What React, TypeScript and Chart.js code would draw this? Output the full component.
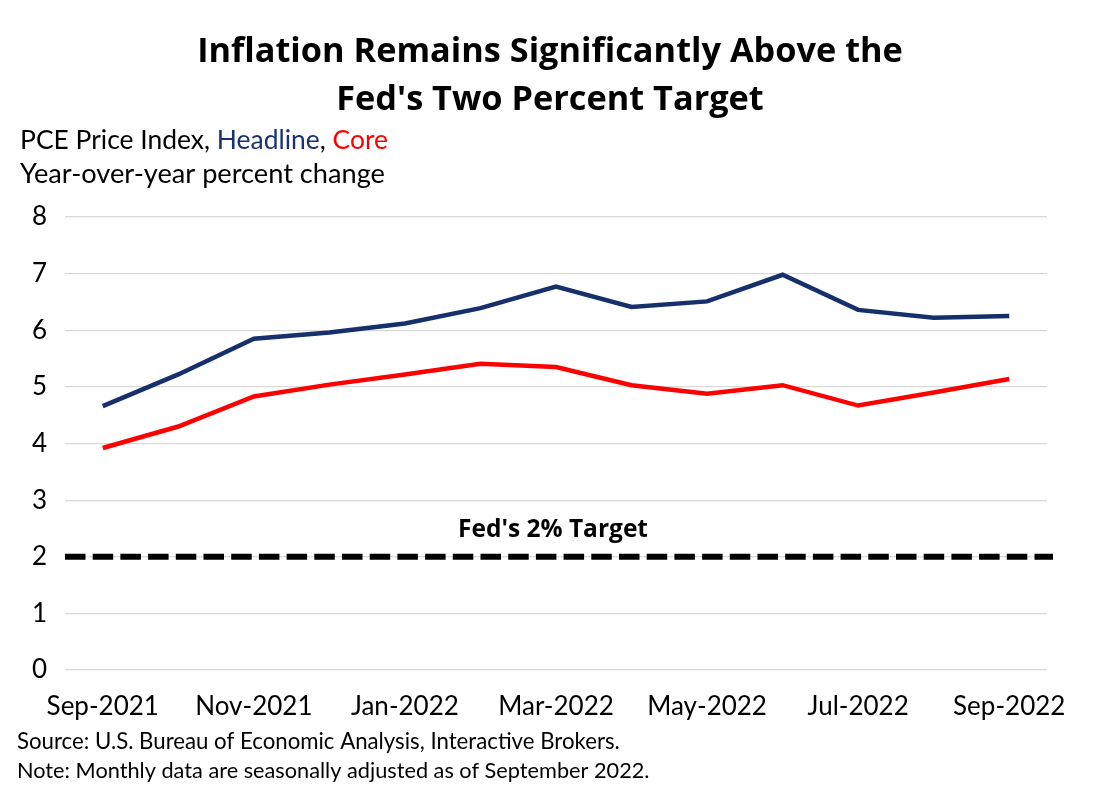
import { useEffect, useRef } from "react";
import { Chart, registerables } from "chart.js";

Chart.register(...registerables);

const MONTHS = [
  "Sep-2021", "Oct-2021", "Nov-2021", "Dec-2021", "Jan-2022", "Feb-2022", "Mar-2022",
  "Apr-2022", "May-2022", "Jun-2022", "Jul-2022", "Aug-2022", "Sep-2022",
];
const HEADLINE = [4.66, 5.22, 5.85, 5.96, 6.12, 6.39, 6.77, 6.41, 6.51, 6.98, 6.36, 6.22, 6.25];
const CORE = [3.92, 4.3, 4.83, 5.04, 5.22, 5.41, 5.35, 5.03, 4.88, 5.03, 4.67, 4.9, 5.14];
const Y_MIN = 0;
const Y_MAX = 8;
const Y_STEP = 1;
const TARGET = 2;
const TARGET_LABEL = "Fed's 2% Target";
const TITLE_LINES = ["Inflation Remains Significantly Above the", "Fed's Two Percent Target"];
const SUBTITLE_PARTS = [
  { text: "PCE Price Index, ", color: "#000000" },
  { text: "Headline", color: "#1a3370" },
  { text: ", ", color: "#000000" },
  { text: "Core", color: "#ff0000" },
];
const SUBTITLE_2 = "Year-over-year percent change";
const FOOTNOTES = [
  "Source: U.S. Bureau of Economic Analysis, Interactive Brokers.",
  "Note: Monthly data are seasonally adjusted as of September 2022.",
];

const FONT = "Lato, 'Open Sans', sans-serif";
const BOLD_FONT = "'Open Sans', Lato, sans-serif";
const NAVY = "#15306a";
const RED = "#ff0000";

function fitSize(ctx: CanvasRenderingContext2D, text: string, weight: string, family: string, width: number) {
  ctx.font = `${weight} 100px ${family}`;
  const w = ctx.measureText(text).width;
  return (100 * width) / w;
}

const textPlugin = {
  id: "customText",
  beforeDatasetsDraw(chart: any) {
    const { ctx, chartArea, scales } = chart;
    const y = scales.y.getPixelForValue(TARGET);
    ctx.save();
    ctx.strokeStyle = "#000000";
    ctx.lineWidth = 6;
    ctx.setLineDash([20.5, 7.2]);
    ctx.beginPath();
    ctx.moveTo(chartArea.left, y);
    ctx.lineTo(chartArea.right + 6, y);
    ctx.stroke();
    ctx.restore();
  },
  afterDraw(chart: any) {
    const { ctx, scales } = chart;
    ctx.save();
    ctx.textBaseline = "middle";
    // title
    ctx.fillStyle = "#000000";
    ctx.textAlign = "center";
    const ts = fitSize(ctx, TITLE_LINES[0], "bold", BOLD_FONT, 706);
    ctx.font = `bold ${ts}px ${BOLD_FONT}`;
    ctx.fillText(TITLE_LINES[0], 550, 52);
    ctx.fillText(TITLE_LINES[1], 550, 100);
    // subtitle
    ctx.textAlign = "left";
    const full = SUBTITLE_PARTS.map((p) => p.text).join("");
    const ss = fitSize(ctx, full, "normal", FONT, 368);
    ctx.font = `normal ${ss}px ${FONT}`;
    let x = 20;
    for (const p of SUBTITLE_PARTS) {
      ctx.fillStyle = p.color;
      ctx.fillText(p.text, x, 140);
      x += ctx.measureText(p.text).width;
    }
    ctx.fillStyle = "#000000";
    const s2 = fitSize(ctx, SUBTITLE_2, "normal", FONT, 365);
    ctx.font = `normal ${s2}px ${FONT}`;
    ctx.fillText(SUBTITLE_2, 20, 174);
    // target label
    ctx.textAlign = "center";
    const tl = fitSize(ctx, TARGET_LABEL, "bold", BOLD_FONT, 190);
    ctx.font = `bold ${tl}px ${BOLD_FONT}`;
    const ty = scales.y.getPixelForValue(TARGET);
    ctx.fillText(TARGET_LABEL, 553, ty - 27);
    // footnotes
    ctx.textAlign = "left";
    const f1 = fitSize(ctx, FOOTNOTES[0], "normal", FONT, 603);
    ctx.font = `normal ${f1}px ${FONT}`;
    ctx.fillText(FOOTNOTES[0], 17, 742);
    const f2 = fitSize(ctx, FOOTNOTES[1], "normal", FONT, 633);
    ctx.font = `normal ${f2}px ${FONT}`;
    ctx.fillText(FOOTNOTES[1], 17, 771);
    ctx.restore();
  },
};

export default function App() {
  const ref = useRef<HTMLCanvasElement | null>(null);
  useEffect(() => {
    if (!ref.current) return;
    const chart = new Chart(ref.current, {
      type: "line",
      data: {
        labels: MONTHS,
        datasets: [
          {
            label: "Headline",
            data: HEADLINE,
            borderColor: NAVY,
            backgroundColor: NAVY,
            borderWidth: 4.5,
            pointRadius: 0,
            tension: 0,
          },
          {
            label: "Core",
            data: CORE,
            borderColor: RED,
            backgroundColor: RED,
            borderWidth: 4.5,
            pointRadius: 0,
            tension: 0,
          },
        ],
      },
      options: {
        responsive: false,
        animation: false,
        devicePixelRatio: 1,
        layout: { padding: { left: 0, top: 217, right: 53, bottom: 68 } },
        plugins: {
          legend: { display: false },
          title: { display: false },
          tooltip: { enabled: false },
        },
        scales: {
          x: {
            type: "category",
            offset: true,
            grid: { display: false, drawTicks: false },
            border: { display: false },
            afterFit: (s: any) => { s.height = 60; },
            ticks: {
              autoSkip: false,
              maxRotation: 0,
              padding: 21,
              color: "#000000",
              font: { family: FONT, size: 26 },
              callback: (_v: any, i: number) => (i % 2 === 0 ? MONTHS[i] : ""),
            },
          },
          y: {
            min: Y_MIN,
            max: Y_MAX,
            grid: { color: "#d9d9d9", lineWidth: 1.2, drawTicks: false },
            border: { display: false },
            afterFit: (s: any) => { s.width = 65; },
            ticks: {
              stepSize: Y_STEP,
              padding: 18,
              color: "#000000",
              font: { family: FONT, size: 26 },
            },
          },
        },
      },
      plugins: [textPlugin],
    });
    return () => chart.destroy();
  }, []);
  return (
    <div style={{ position: "absolute", left: 0, top: 0, width: 1100, height: 798, background: "#ffffff" }}>
      <canvas ref={ref} width={1100} height={798} style={{ width: 1100, height: 798 }} />
    </div>
  );
}
